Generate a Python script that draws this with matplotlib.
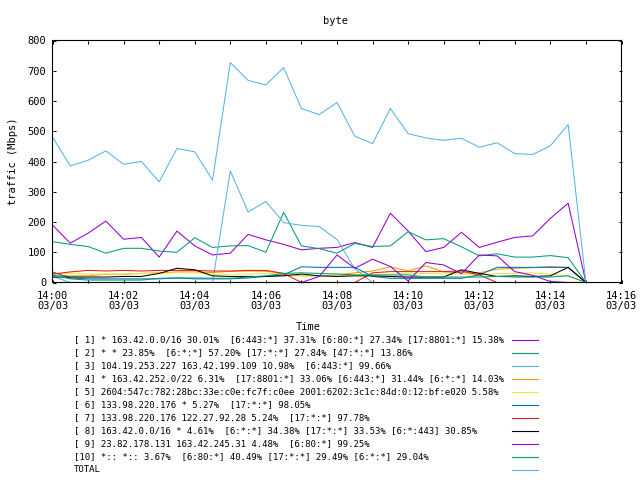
"""Повтор gnuplot-графика 'byte': трафик топ-10 потоков + TOTAL."""

import matplotlib

matplotlib.use("Agg")
import matplotlib.pyplot as plt
from matplotlib.lines import Line2D
from matplotlib.ticker import FixedLocator, MultipleLocator

# время в минутах от 14:00, шаг 30 с
MINUTES = [i * 0.5 for i in range(31)]

S1 = [190, 130, 163, 203, 143, 149, 84, 170, 121, 91, 97, 159, 141, 126, 108,
      113, 116, 132, 116, 229, 170, 102, 116, 166, 116, 133, 149, 154, 212, 262, 0]
S2 = [135, 126, 119, 97, 113, 113, 104, 100, 148, 116, 121, 122, 100, 232, 121,
      112, 97, 129, 119, 121, 168, 141, 145, 118, 88, 95, 84, 84, 89, 82, 0]
S3 = [20, 0, 0, 0, 0, 0, 0, 0, 0, 0, 369, 233, 268, 198, 189,
      185, 142, 45, 0, 0, 0, 0, 0, 0, 0, 0, 0, 0, 0, 0, 0]
S4 = [25, 22, 22, 27, 27, 30, 32, 35, 35, 33, 37, 38, 37, 30, 22,
      22, 25, 32, 38, 52, 38, 55, 35, 32, 32, 44, 47, 49, 53, 50, 0]
S5 = [30, 30, 28, 28, 28, 30, 30, 32, 32, 28, 27, 28, 30, 28, 25,
      22, 22, 25, 27, 28, 30, 30, 28, 28, 25, 30, 30, 32, 28, 22, 0]
S6 = [35, 15, 12, 12, 12, 12, 12, 15, 12, 12, 12, 15, 20, 25, 52,
      50, 50, 50, 20, 14, 14, 14, 14, 14, 25, 50, 50, 50, 50, 50, 0]
S7 = [28, 35, 40, 38, 40, 38, 40, 40, 40, 38, 38, 40, 40, 30, 0,
      0, 0, 0, 32, 36, 36, 36, 36, 38, 25, 0, 0, 0, 0, 0, 0]
S8 = [18, 18, 18, 18, 20, 20, 30, 47, 42, 22, 20, 20, 20, 22, 28,
      22, 20, 22, 22, 20, 18, 18, 18, 42, 30, 20, 22, 20, 22, 50, 0]
S9 = [0, 0, 0, 0, 0, 0, 0, 0, 0, 0, 0, 0, 0, 0, 0,
      20, 91, 47, 77, 53, 5, 66, 58, 29, 91, 88, 36, 24, 3, 0, 0]
S10 = [25, 12, 8, 8, 8, 8, 14, 15, 15, 14, 14, 18, 22, 30, 32,
       30, 28, 25, 25, 25, 25, 18, 18, 18, 18, 20, 18, 18, 18, 22, 0]
TOTAL = [481, 385, 404, 435, 391, 400, 333, 443, 432, 338, 727, 668, 653, 710, 575,
         555, 595, 484, 459, 575, 492, 478, 470, 477, 447, 462, 426, 423, 452, 522, 0]

LABELS = [
    "[ 1] * 163.42.0.0/16 30.01%  [6:443:*] 37.31% [6:80:*] 27.34% [17:8801:*] 15.38%",
    "[ 2] * * 23.85%  [6:*:*] 57.20% [17:*:*] 27.84% [47:*:*] 13.86%",
    "[ 3] 104.19.253.227 163.42.199.109 10.98%  [6:443:*] 99.66%",
    "[ 4] * 163.42.252.0/22 6.31%  [17:8801:*] 33.06% [6:443:*] 31.44% [6:*:*] 14.03%",
    "[ 5] 2604:547c:782:28bc:33e:c0e:fc7f:c0ee 2001:6202:3c1c:84d:0:12:bf:e020 5.58%",
    "[ 6] 133.98.220.176 * 5.27%  [17:*:*] 98.05%",
    "[ 7] 133.98.220.176 122.27.92.28 5.24%  [17:*:*] 97.78%",
    "[ 8] 163.42.0.0/16 * 4.61%  [6:*:*] 34.38% [17:*:*] 33.53% [6:*:443] 30.85%",
    "[ 9] 23.82.178.131 163.42.245.31 4.48%  [6:80:*] 99.25%",
    "[10] *:: *:: 3.67%  [6:80:*] 40.49% [17:*:*] 29.49% [6:*:*] 29.04%",
    "TOTAL",
]

# палитра gnuplot по умолчанию (цикл из 8 цветов)
COLORS = ["#9400d3", "#009e73", "#56b4e9", "#e69f00", "#f0e442",
          "#0072b2", "#e51e10", "#000000", "#9400d3", "#009e73", "#56b4e9"]

FONT = "DejaVu Sans Mono"
W, H = 640, 480


def fx(px):
    return px / W


def fy(py):
    return 1 - py / H


def main():
    fig = plt.figure(figsize=(6.4, 4.8), dpi=100, facecolor="white")
    # края рамки на центрах пикселей, чтобы нулевые линии совпали с ней
    ax = fig.add_axes([fx(52.5), fy(282.5), fx(621.5) - fx(52.5),
                       fy(40.5) - fy(282.5)])

    series = [S1, S2, S3, S4, S5, S6, S7, S8, S9, S10, TOTAL]
    for vals, color in zip(series, COLORS):
        ax.plot(MINUTES, vals, color=color, linewidth=0.75)

    ax.set_xlim(0, 16)
    ax.set_ylim(0, 800)
    ax.yaxis.set_major_locator(MultipleLocator(100))
    ax.xaxis.set_major_locator(FixedLocator(range(0, 17)))
    ax.set_xticklabels([f"14:{m:02d}\n03/03" if m % 2 == 0 else ""
                        for m in range(0, 17)])
    ax.tick_params(direction="in", length=2.5, width=0.75, top=True,
                   right=True, labelsize=7.5)
    ax.tick_params(axis="x", pad=6)
    ax.tick_params(axis="y", pad=4.5)
    for lbl in ax.get_xticklabels() + ax.get_yticklabels():
        lbl.set_family(FONT)
    for lbl in ax.get_xticklabels():
        lbl.set_linespacing(1.05)
    # рамка поверх линий, как в gnuplot: нулевые участки прячутся под ней
    for sp in ax.spines.values():
        sp.set_linewidth(0.8)
        sp.set_snap(False)
        sp.set_zorder(5)

    fig.text(fx(335), fy(21), "byte", ha="center", va="center",
             family=FONT, fontsize=7.5)
    fig.text(fx(13), fy(161), "traffic (Mbps)", ha="center", va="center",
             rotation=90, family=FONT, fontsize=7.5)
    fig.text(fx(308), fy(327), "Time", ha="center", va="center",
             family=FONT, fontsize=7.5)

    # легенда под графиком: текст слева, образцы линий справа
    for i, (label, color) in enumerate(zip(LABELS, COLORS)):
        y = 340 + i * 12.97
        fig.text(fx(74), fy(y), label, ha="left", va="center",
                 family=FONT, fontsize=6.45)
        fig.add_artist(Line2D([fx(512), fx(538)], [fy(y), fy(y)],
                              color=color, linewidth=0.8))

    fig.savefig("out.png", dpi=100, facecolor="white")


if __name__ == "__main__":
    main()
